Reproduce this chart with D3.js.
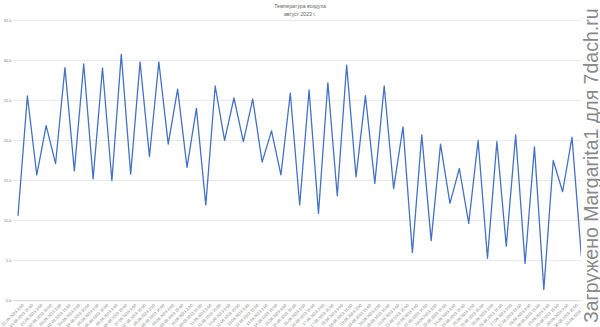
<!DOCTYPE html>
<html>
<head>
<meta charset="utf-8">
<script src="https://cdn.jsdelivr.net/npm/d3@7"></script>
<style>
  body { margin: 0; background: #fff; }
  svg { display: block; font-family: "Liberation Sans", Arial, sans-serif; }
</style>
</head>
<body>
<svg width="600" height="327"></svg>
<script>
const title = "Температура воздуха";
const subtitle = "август 2023 г.";
const watermark = "Загружено Margarita1 для 7dach.ru";

// один замер ночью (3:00) и один днём (15:00)
const days = d3.range(1, 32);
const times = ["3:00", "15:00"];
const temps = [
  10.6, 25.55, 15.7, 21.85, 17.1, 29.1, 16.2, 29.55, 15.2, 29.05,
  15.0, 30.75, 15.8, 29.8, 18.0, 29.8, 19.55, 26.4, 16.65, 24.0,
  11.95, 26.8, 20.0, 25.3, 19.85, 25.15, 17.3, 21.2, 15.7, 25.9,
  11.95, 26.3, 10.9, 27.2, 13.1, 29.4, 15.45, 25.6, 14.65, 26.8,
  14.0, 21.7, 6.0, 20.7, 7.5, 19.55, 12.15, 16.5, 9.65, 20.0,
  5.3, 19.85, 6.8, 20.7, 4.65, 19.2, 1.4, 17.5, 13.6, 20.4,
  5.5
];
const yTicks = [0, 5, 10, 15, 20, 25, 30, 35];

const labels = [];
days.forEach((d) => times.forEach((t) => {
  labels.push(String(d).padStart(2, "0") + ".08.2023 " + t);
}));
const cats = labels.slice(0, temps.length);

const svg = d3.select("svg");

const x = d3.scaleBand().domain(cats).range([13.3, 13.3 + 9.39 * cats.length]);
const y = d3.scaleLinear().domain([0, 35]).range([300.7, 20.3]);
const cx = (c) => x(c) + x.bandwidth() / 2;

// сетка
svg.append("g")
  .selectAll("line")
  .data(yTicks)
  .enter()
  .append("line")
  .attr("x1", 13)
  .attr("x2", 581)
  .attr("y1", (d) => y(d))
  .attr("y2", (d) => y(d))
  .attr("stroke", (d) => d === 0 ? "#d4d4d4" : "#e8e8e8")
  .attr("stroke-width", 1);

// подписи оси Y
svg.append("g")
  .selectAll("text")
  .data(yTicks)
  .enter()
  .append("text")
  .attr("x", 11.5)
  .attr("y", (d) => y(d))
  .attr("dy", "0.35em")
  .attr("text-anchor", "end")
  .attr("fill", "#7a7a7a")
  .attr("font-size", "4px")
  .text((d) => d3.format(".1f")(d).replace(".", ","));

// подписи оси X
svg.append("g")
  .selectAll("text")
  .data(cats)
  .enter()
  .append("text")
  .attr("transform", (d) => `translate(${cx(d) + 4},${303.5}) rotate(-45)`)
  .attr("text-anchor", "end")
  .attr("dy", "0.7em")
  .attr("fill", "#7a7a7a")
  .attr("font-size", "4px")
  .text((d) => d);

// линия температуры
const line = d3.line()
  .x((d, i) => cx(cats[i]))
  .y((d) => y(d));

svg.append("path")
  .datum(temps)
  .attr("fill", "none")
  .attr("stroke", "#4472c4")
  .attr("stroke-width", 1.3)
  .attr("stroke-linejoin", "round")
  .attr("d", line);

// заголовок
svg.append("text")
  .attr("x", 300)
  .attr("y", 7.5)
  .attr("text-anchor", "middle")
  .attr("fill", "#666")
  .attr("font-size", "5.2px")
  .text(title);

svg.append("text")
  .attr("x", 300)
  .attr("y", 15.5)
  .attr("text-anchor", "middle")
  .attr("fill", "#666")
  .attr("font-size", "5.2px")
  .text(subtitle);

// полоса с водяным знаком
svg.append("rect")
  .attr("x", 581)
  .attr("y", 0)
  .attr("width", 19)
  .attr("height", 327)
  .attr("fill", "#fff");

svg.append("text")
  .attr("transform", "translate(597.5,323) rotate(-90)")
  .attr("fill", "#8a8a8a")
  .attr("font-size", "19.5px")
  .text(watermark);
</script>
</body>
</html>
